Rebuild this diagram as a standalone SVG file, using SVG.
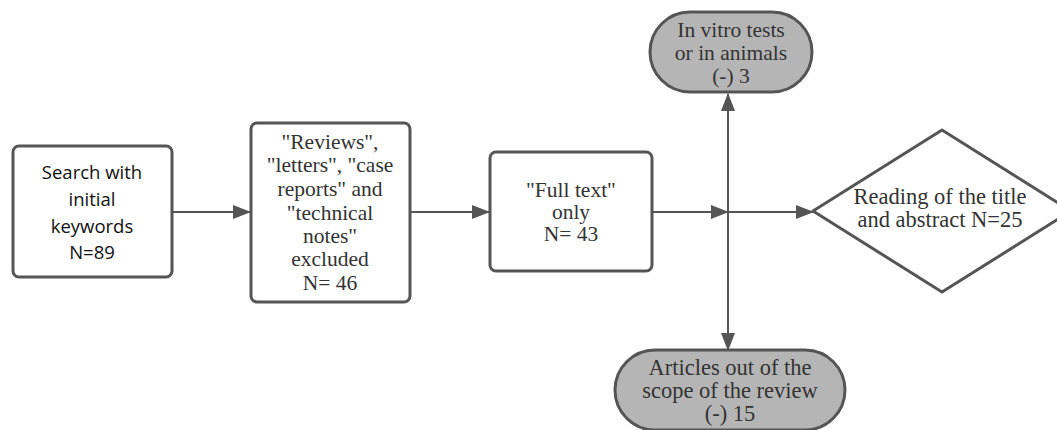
<svg xmlns="http://www.w3.org/2000/svg" width="1057" height="430" viewBox="0 0 1057 430">
<defs>
<marker id="ah2" markerWidth="18" markerHeight="14" refX="17" refY="7" orient="auto" markerUnits="userSpaceOnUse">
<path d="M0,0 L18,7 L0,14 z" fill="#555"/>
</marker>
<style>
.box{fill:#fff;stroke:#555;stroke-width:3}
.pill{fill:#b5b5b5;stroke:#555;stroke-width:3}
.ser{font-family:"Liberation Serif","Times New Roman",serif;font-size:21.5px;fill:#333;text-anchor:middle}
.wide{font-size:22.5px}
.sans{font-family:"Open Sans","Noto Sans",sans-serif;font-size:18.5px;fill:#111;text-anchor:middle}
.ln{stroke:#555;stroke-width:2;fill:none}
</style>
</defs>
<rect width="1057" height="430" fill="#fff"/>
<g id="connectors">
<line class="ln" x1="172" y1="212" x2="250" y2="212" marker-end="url(#ah2)"/>
<line class="ln" x1="410" y1="212" x2="489" y2="212" marker-end="url(#ah2)"/>
<line class="ln" x1="652" y1="212" x2="728" y2="212" marker-end="url(#ah2)"/>
<line class="ln" x1="728" y1="212" x2="813" y2="212" marker-end="url(#ah2)"/>
<line class="ln" x1="728" y1="212" x2="728" y2="94" marker-end="url(#ah2)"/>
<line class="ln" x1="728" y1="212" x2="728" y2="350" marker-end="url(#ah2)"/>
</g>
<g id="n1">
<rect class="box" x="13" y="146" width="159" height="131" rx="6"/>
<text class="sans"><tspan x="92" y="179">Search with</tspan><tspan x="92" y="206">initial</tspan><tspan x="92" y="233">keywords</tspan><tspan x="92" y="259">N=89</tspan></text>
</g>
<g id="n2">
<rect class="box" x="251" y="123" width="159" height="179" rx="6"/>
<text class="ser"><tspan x="330" y="149">"Reviews",</tspan><tspan x="330" y="172">"letters", "case</tspan><tspan x="330" y="196">reports" and</tspan><tspan x="330" y="220">"technical</tspan><tspan x="330" y="243">notes"</tspan><tspan x="330" y="266">excluded</tspan><tspan x="330" y="290">N= 46</tspan></text>
</g>
<g id="n3">
<rect class="box" x="490" y="152" width="162" height="119" rx="6"/>
<text class="ser"><tspan x="571" y="197">"Full text"</tspan><tspan x="571" y="219">only</tspan><tspan x="571" y="241">N= 43</tspan></text>
</g>
<g id="n4">
<rect class="pill" x="650" y="12" width="162" height="80" rx="40"/>
<text class="ser"><tspan x="731" y="37">In vitro tests</tspan><tspan x="731" y="60">or in animals</tspan><tspan x="731" y="83">(-) 3</tspan></text>
</g>
<g id="n5">
<rect class="pill" x="615" y="350" width="230" height="80" rx="40"/>
<text class="ser wide"><tspan x="730" y="375">Articles out of the</tspan><tspan x="730" y="398">scope of the review</tspan><tspan x="730" y="421">(-) 15</tspan></text>
</g>
<g id="n6">
<path class="box" d="M813,211 L942,130 L1071,211 L942,292 Z" stroke-linejoin="round"/>
<text class="ser wide"><tspan x="940" y="204">Reading of the title</tspan><tspan x="940" y="227">and abstract N=25</tspan></text>
</g>
</svg>
